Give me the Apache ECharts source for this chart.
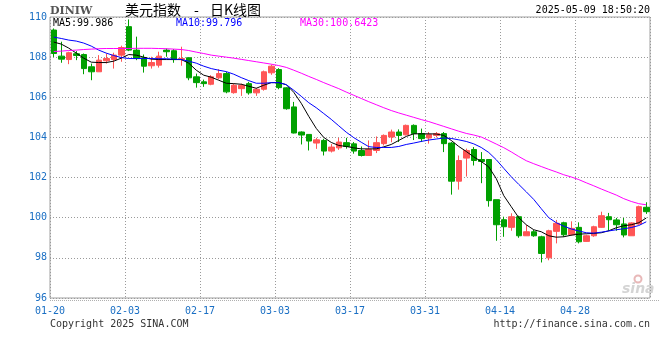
<!DOCTYPE html>
<html><head><meta charset="utf-8">
<script src="https://cdn.jsdelivr.net/npm/echarts@6/dist/echarts.min.js"></script>
<style>html,body{margin:0;padding:0;background:#fff}#c{width:660px;height:360px}</style>
</head><body><div id="c"></div>
<script>
const dates = ['01-20','01-21','01-22','01-23','01-24','01-27','01-28','01-29','01-30','01-31',
'02-03','02-04','02-05','02-06','02-07','02-10','02-11','02-12','02-13','02-14',
'02-17','02-18','02-19','02-20','02-21','02-24','02-25','02-26','02-27','02-28',
'03-03','03-04','03-05','03-06','03-07','03-10','03-11','03-12','03-13','03-14',
'03-17','03-18','03-19','03-20','03-21','03-24','03-25','03-26','03-27','03-28',
'03-31','04-01','04-02','04-03','04-04','04-07','04-08','04-09','04-10','04-11',
'04-14','04-15','04-16','04-17','04-18','04-21','04-22','04-23','04-24','04-25',
'04-28','04-29','04-30','05-01','05-02','05-05','05-06','05-07','05-08','05-09'];
const openV = [109.35,108.05,107.88,108.17,108.13,107.52,107.27,107.82,107.88,108.1,
109.52,108.35,107.97,107.57,107.6,108.35,108.32,107.88,107.97,107.02,
106.77,106.65,106.97,107.18,106.23,106.43,106.68,106.22,106.4,107.22,
107.38,106.47,105.52,104.27,104.15,103.72,103.85,103.32,103.48,103.74,
103.68,103.35,103.1,103.35,103.69,104.02,104.27,104.13,104.6,104.19,
103.97,104.1,104.19,103.72,101.82,102.97,103.4,102.9,102.9,100.9,
99.9,99.52,100.05,99.1,99.3,99.05,98.0,99.32,99.75,99.15,
99.52,98.82,99.1,99.52,100.05,99.89,99.69,99.1,99.69,100.52];
const closeV = [108.18,107.9,108.22,108.08,107.43,107.27,107.85,107.93,108.1,108.48,
108.35,107.93,107.55,107.73,108.05,108.27,107.88,107.93,106.97,106.73,
106.68,107.02,107.18,106.27,106.6,106.6,106.22,106.4,107.27,107.55,
106.48,105.43,104.22,104.12,103.82,103.88,103.32,103.52,103.77,103.55,
103.32,103.1,103.4,103.74,104.1,104.27,104.1,104.6,104.19,103.94,
104.14,104.19,103.69,101.82,102.85,103.35,102.85,102.8,100.85,99.65,
99.55,100.05,99.1,99.3,99.1,98.22,99.35,99.72,99.15,99.47,
98.8,99.1,99.55,100.1,99.9,99.65,99.14,99.74,100.55,100.3];
const lowV = [108.01,107.72,107.65,107.85,107.15,106.85,107.27,107.68,107.43,107.77,
108.3,107.85,107.23,107.43,107.48,108.02,107.72,107.57,106.85,106.48,
106.52,106.6,106.9,106.2,106.18,106.07,106.13,106.07,106.33,107.12,
106.4,105.38,104.2,103.65,103.35,103.43,103.1,103.25,103.38,103.44,
103.19,103.05,103.1,103.22,103.6,103.76,103.77,104.1,103.87,103.77,
103.69,104.0,103.27,101.15,101.4,102.05,102.6,101.72,100.55,98.85,
99.05,99.35,99.0,99.1,99.05,97.77,97.88,98.72,99.05,99.1,
98.72,98.8,99.05,99.5,99.35,99.35,99.02,99.1,99.65,100.19];
const highV = [109.43,108.77,108.27,108.3,108.18,107.68,108.1,108.18,108.22,108.57,
109.88,109.02,108.13,108.02,108.27,108.43,108.4,108.52,107.97,107.18,
106.88,107.1,107.4,107.27,106.68,106.68,106.77,106.47,107.33,107.63,
107.45,106.5,105.77,104.3,104.15,103.98,103.93,103.67,103.98,103.98,
103.77,103.55,103.85,104.05,104.15,104.39,104.4,104.64,104.65,104.44,
104.27,104.27,104.27,103.77,103.1,103.44,103.52,103.27,102.9,100.9,
100.05,100.22,100.1,99.64,99.39,99.1,99.4,99.89,99.8,99.82,
99.77,99.15,99.6,100.3,100.24,99.99,99.99,99.77,100.6,100.77];
const ma5 = [108.75,108.65,108.45,108.2,107.95,107.75,107.73,107.73,107.8,107.95,
108.13,108.1,108.0,107.9,107.88,107.88,107.88,107.88,107.7,107.35,
107.1,107.0,106.85,106.7,106.68,106.65,106.55,106.45,106.6,106.73,
106.73,106.63,106.25,105.7,105.05,104.45,104.0,103.75,103.6,103.55,
103.48,103.43,103.43,103.43,103.53,103.65,103.85,104.05,104.18,104.18,
104.18,104.17,104.1,103.85,103.55,103.3,103.03,102.8,102.53,101.95,
101.1,100.55,100.0,99.65,99.4,99.3,99.1,99.03,99.05,99.13,
99.18,99.2,99.22,99.25,99.35,99.5,99.6,99.65,99.75,99.986];
const ma10 = [109.0,108.93,108.85,108.8,108.7,108.55,108.35,108.2,108.08,107.98,
107.93,107.93,107.93,107.93,107.92,107.92,107.9,107.88,107.8,107.7,
107.55,107.43,107.35,107.28,107.15,106.98,106.83,106.7,106.7,106.73,
106.73,106.63,106.35,106.05,105.73,105.48,105.19,104.9,104.58,104.26,
103.99,103.76,103.54,103.5,103.5,103.5,103.55,103.65,103.72,103.8,
103.87,103.92,103.97,103.95,103.88,103.8,103.68,103.5,103.25,102.89,
102.46,102.04,101.66,101.29,100.91,100.45,100.0,99.75,99.58,99.44,
99.34,99.25,99.23,99.28,99.34,99.4,99.45,99.51,99.61,99.796];
const ma30 = [108.28,108.3,108.33,108.35,108.38,108.4,108.42,108.43,108.43,108.43,
108.43,108.44,108.44,108.44,108.43,108.42,108.4,108.38,108.33,108.25,
108.18,108.1,108.05,108.0,107.95,107.89,107.83,107.77,107.71,107.65,
107.58,107.49,107.35,107.2,107.04,106.89,106.73,106.58,106.43,106.26,
106.1,105.94,105.78,105.63,105.48,105.34,105.22,105.11,105.0,104.89,
104.79,104.67,104.55,104.43,104.31,104.2,104.12,104.02,103.85,103.67,
103.49,103.28,103.05,102.84,102.69,102.55,102.41,102.28,102.14,102.03,
101.9,101.74,101.59,101.43,101.28,101.13,100.95,100.81,100.7,100.6423];
const yTicks = [96,98,100,102,104,106,108,110];

const mono = 'DejaVu Sans Mono';
const blueLbl = '#1a6fc4';
const dotted = {color:'#9a9a9a',type:[1,2],width:1};
const chart = echarts.init(document.getElementById('c'), null, {renderer:'canvas'});
const last = dates.length - 1;
chart.setOption({
  animation:false,
  backgroundColor:'#fff',
  grid:{left:50,right:10,top:17,bottom:62,show:true,borderColor:'#a0a0a0',borderWidth:1,backgroundColor:'transparent'},
  xAxis:[
    {type:'category',data:dates,boundaryGap:true,axisLine:{show:false},axisTick:{show:false},axisLabel:{show:false},splitLine:{show:false}},
    {type:'value',min:0,max:dates.length,interval:10,position:'bottom',axisLine:{show:false},axisTick:{show:false},
     splitLine:{show:true,lineStyle:dotted},
     axisLabel:{color:blueLbl,fontFamily:mono,fontSize:10,margin:8,
       formatter:v=>(v<dates.length?dates[v]:'')}}
  ],
  yAxis:{type:'value',min:yTicks[0],max:yTicks[yTicks.length-1],interval:2,
    axisLine:{show:false},axisTick:{show:false},
    splitLine:{show:true,lineStyle:dotted},
    axisLabel:{color:blueLbl,fontFamily:mono,fontSize:10,margin:3}},
  series:[
    {type:'candlestick',xAxisIndex:0,barWidth:6,
     data:dates.map((d,i)=>[openV[i],closeV[i],lowV[i],highV[i]]),
     itemStyle:{color:'#ff5555',color0:'#00a000',borderColor:'#ff5555',borderColor0:'#00a000',borderWidth:1}},
    {type:'line',xAxisIndex:0,data:ma5,symbol:'none',lineStyle:{color:'#000',width:1},z:5},
    {type:'line',xAxisIndex:0,data:ma10,symbol:'none',lineStyle:{color:'#0000ff',width:1},z:5},
    {type:'line',xAxisIndex:0,data:ma30,symbol:'none',lineStyle:{color:'#ff00ff',width:1},z:5}
  ],
  graphic:[
    {type:'text',left:50,top:6,style:{text:'DINIW',font:'bold 11px "DejaVu Serif"',fill:'#555'}},
    {type:'text',left:125,top:3,style:{text:'美元指数',font:'14px "Noto Sans CJK SC"',fill:'#000'}},
    {type:'text',left:194,top:3,style:{text:'-',font:'14px "Noto Sans CJK SC"',fill:'#000'}},
    {type:'text',left:210,top:3,style:{text:'日K线图',font:'14px "Noto Sans CJK SC"',fill:'#000'}},
    {type:'text',right:10,top:5,style:{text:'2025-05-09 18:50:20',font:'10px "DejaVu Sans Mono"',fill:'#000'}},
    {type:'text',left:53,top:18,z:10,style:{text:'MA5:'+ma5[last],font:'10px "DejaVu Sans Mono"',fill:'#000'}},
    {type:'text',left:176,top:18,z:10,style:{text:'MA10:'+ma10[last],font:'10px "DejaVu Sans Mono"',fill:'#0000ff'}},
    {type:'text',left:300,top:18,z:10,style:{text:'MA30:'+ma30[last],font:'10px "DejaVu Sans Mono"',fill:'#ff00ff'}},
    {type:'line',shape:{x1:50,y1:300.5,x2:660,y2:300.5},style:{stroke:'#b0b0b0',lineDash:[1,1],lineWidth:1}},
    {type:'text',left:50,top:319,style:{text:'Copyright 2025 SINA.COM',font:'10px "DejaVu Sans Mono"',fill:'#333'}},
    {type:'text',right:10,top:319,style:{text:'http://finance.sina.com.cn',font:'10px "DejaVu Sans Mono"',fill:'#333'}},
    {type:'circle',shape:{cx:638,cy:279,r:3.5},style:{fill:'none',stroke:'#e8b8b8',lineWidth:2}},
    {type:'text',left:622,top:282,style:{text:'sina',font:'italic bold 14px "DejaVu Sans"',fill:'#d4d4d4'}}
  ]
});
</script></body></html>
